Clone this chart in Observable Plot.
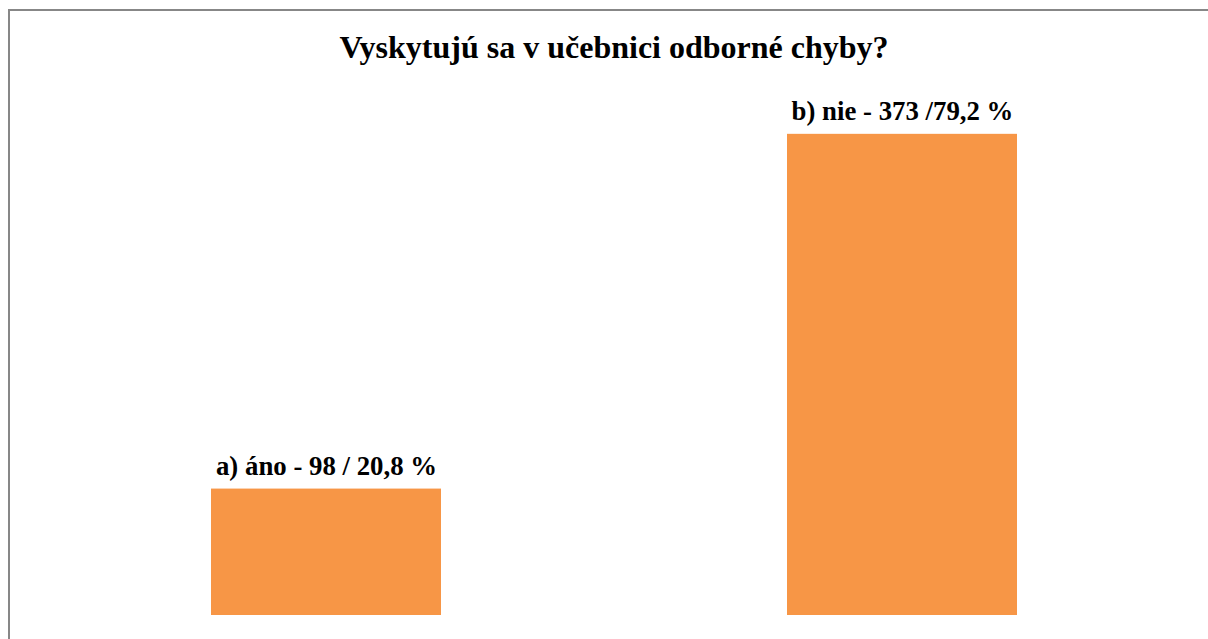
<!DOCTYPE html>
<html>
<head>
<meta charset="utf-8">
<script src="https://cdn.jsdelivr.net/npm/d3@7"></script>
<script src="https://cdn.jsdelivr.net/npm/@observablehq/plot@0.6"></script>
<style>
  html, body { margin: 0; padding: 0; background: #fff; overflow: hidden; width: 1208px; height: 639px; }
  #frame { position: absolute; left: 8px; top: 9px; width: 1400px; height: 800px; border: 2px solid #878787; box-sizing: border-box; }
  #title { position: absolute; left: 0; top: 32px; width: 1228px; height: 30px; line-height: 30px; text-align: center;
           font-family: "Liberation Serif", "Times New Roman", serif; font-weight: bold; font-size: 32px; color: #000; white-space: nowrap; }
  #chart { position: absolute; left: 0; top: 80px; }
</style>
</head>
<body>
<div id="frame"></div>
<div id="title">Vyskytujú sa v učebnici odborné chyby?</div>
<div id="chart"></div>
<script>
const categories = ["a) áno", "b) nie"];
const counts = [98, 373];
const labels = ["a) áno - 98 / 20,8 %", "b) nie - 373 /79,2 %"];

const data = categories.map((c, i) => ({category: c, count: counts[i], label: labels[i]}));

const chart = Plot.plot({
  width: 1208,
  height: 559,
  marginLeft: 20,
  marginRight: 0,
  marginTop: 19,
  marginBottom: 24,
  style: {background: "transparent", overflow: "visible"},
  x: {domain: categories, paddingInner: 0.6, paddingOuter: 0.33125, axis: null},
  y: {domain: [0, 400], axis: null},
  marks: [
    Plot.barY(data, {x: "category", y: "count", fill: "#F79646"}),
    Plot.text(data, {x: "category", y: "count", text: "label", lineAnchor: "bottom", dy: -14.5,
      fontFamily: "Liberation Serif", fontWeight: "bold", fontSize: 26.8, fill: "#000"})
  ]
});
document.getElementById("chart").appendChild(chart);
</script>
</body>
</html>
